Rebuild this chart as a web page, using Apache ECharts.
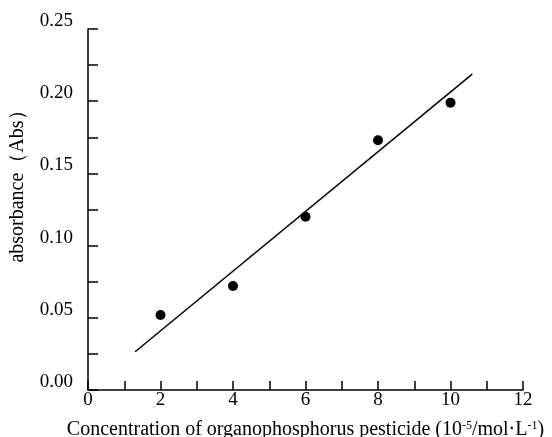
<!DOCTYPE html>
<html>
<head>
<meta charset="utf-8">
<script src="https://cdn.jsdelivr.net/npm/echarts@6/dist/echarts.min.js"></script>
<style>html,body{margin:0;padding:0;background:#fff}#c{width:552px;height:437px}</style>
</head>
<body>
<div id="c"></div>
<script>
const concentrations = [2, 4, 6, 8, 10];
const absorbances = [0.052, 0.072, 0.120, 0.173, 0.199];
const fitX = [1.3, 10.6];
const fitY = [0.0265, 0.2188];
const xTicks = [0, 2, 4, 6, 8, 10, 12];
const yTicks = [0.00, 0.05, 0.10, 0.15, 0.20, 0.25];

const font = '"Liberation Serif", "Times New Roman", serif';
const chart = echarts.init(document.getElementById('c'));
chart.setOption({
  animation: false,
  backgroundColor: '#fff',
  grid: { left: 88, top: 29, right: 29, bottom: 47, containLabel: false, outerBoundsMode: 'none' },
  xAxis: {
    type: 'value', min: 0, max: 12, interval: 1,
    name: '{n|Concentration of organophosphorus pesticide (10}{s|-5}{n|/mol·L}{s|-1}{n|)}',
    nameLocation: 'middle', nameGap: 30,
    nameTextStyle: {
      rich: {
        n: { fontFamily: font, fontSize: 20, color: '#000', verticalAlign: 'bottom' },
        s: { fontFamily: font, fontSize: 12, color: '#000', verticalAlign: 'top' }
      }
    },
    axisLine: { lineStyle: { color: '#000', width: 1.5 } },
    axisTick: { inside: true, length: 9, lineStyle: { color: '#000', width: 1.5 } },
    splitLine: { show: false },
    axisLabel: {
      fontFamily: font, fontSize: 19, color: '#000', margin: 1,
      formatter: v => xTicks.includes(v) ? String(v) : ''
    }
  },
  yAxis: {
    type: 'value', min: 0, max: 0.25, interval: 0.025,
    name: 'absorbance（Abs）',
    nameLocation: 'middle', nameGap: 60, nameRotate: 90,
    nameTextStyle: { fontFamily: font, fontSize: 20, color: '#000', padding: [0, 0, 0, 56] },
    axisLine: { show: true, lineStyle: { color: '#000', width: 1.5 } },
    axisTick: { show: true, inside: true, length: 10, lineStyle: { color: '#000', width: 1.5 } },
    splitLine: { show: false },
    axisLabel: {
      fontFamily: font, fontSize: 19, color: '#000', margin: 15,
      verticalAlign: 'bottom', lineHeight: 16,
      formatter: v => yTicks.some(t => Math.abs(t - v) < 1e-9) ? v.toFixed(2) : ''
    }
  },
  series: [
    {
      type: 'line',
      data: fitX.map((x, i) => [x, fitY[i]]),
      showSymbol: false, symbol: 'none',
      lineStyle: { color: '#000', width: 1.5 }
    },
    {
      type: 'scatter',
      data: concentrations.map((x, i) => [x, absorbances[i]]),
      symbol: 'circle', symbolSize: 10,
      itemStyle: { color: '#000', opacity: 1 }
    }
  ]
});
</script>
</body>
</html>
